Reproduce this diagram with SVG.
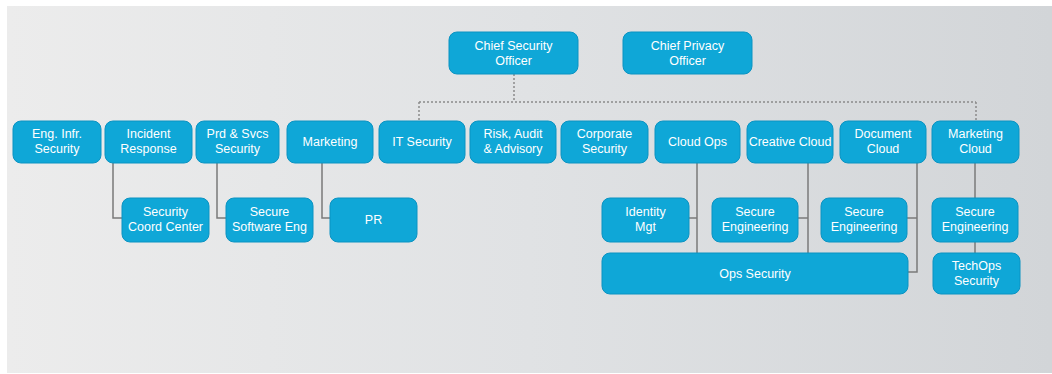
<svg xmlns="http://www.w3.org/2000/svg" width="1052" height="374" viewBox="0 0 1052 374">
<defs>
<linearGradient id="bg" x1="0" y1="0" x2="1" y2="0">
<stop offset="0" stop-color="#ececec"/>
<stop offset="0.5" stop-color="#e0e2e4"/>
<stop offset="1" stop-color="#d2d5d8"/>
</linearGradient>
<style>
.n rect{fill:#0fa7d7;stroke:#0b93c2;stroke-width:1}
.n text{fill:#ffffff;font-family:"Liberation Sans",Arial,sans-serif;font-size:12.5px;text-anchor:middle}
.c path{fill:none;stroke:#7a7a7a;stroke-width:1.5}
.c path.d{stroke:#8a8a8a;stroke-width:1.5;stroke-dasharray:2 2}
</style>
</defs>
<rect x="0" y="0" width="1052" height="374" fill="#ffffff"/>
<rect x="7" y="6" width="1045" height="367" fill="url(#bg)"/>
<g class="c" id="connectors">
<path class="d" d="M514 74V102"/>
<path class="d" d="M419 102H976"/>
<path class="d" d="M419 102V121"/>
<path class="d" d="M976 102V121"/>
<path d="M113 163V218H122"/>
<path d="M217 163V218H226"/>
<path d="M322 163V218H330"/>
<path d="M697 163V253"/>
<path d="M689 218H697"/>
<path d="M808 163V253"/>
<path d="M798 218H808"/>
<path d="M917 163V272H908"/>
<path d="M907 218H917"/>
<path d="M975 163V198"/>
<path d="M975 242V253"/>
</g>
<g class="n" id="cso"><rect x="449" y="32" width="129" height="42" rx="8"/><text x="513.5" y="50">Chief Security</text><text x="513.5" y="65">Officer</text></g>
<g class="n" id="cpo"><rect x="623" y="32" width="129" height="42" rx="8"/><text x="687.5" y="50">Chief Privacy</text><text x="687.5" y="65">Officer</text></g>
<g class="n" id="eng"><rect x="13" y="121" width="88" height="42" rx="8"/><text x="57" y="138">Eng. Infr.</text><text x="57" y="153">Security</text></g>
<g class="n" id="incident"><rect x="105" y="121" width="87" height="42" rx="8"/><text x="148.5" y="138">Incident</text><text x="148.5" y="153">Response</text></g>
<g class="n" id="prd"><rect x="196" y="121" width="83" height="42" rx="8"/><text x="237.5" y="138">Prd &amp; Svcs</text><text x="237.5" y="153">Security</text></g>
<g class="n" id="marketing"><rect x="287" y="121" width="86" height="42" rx="8"/><text x="330" y="146">Marketing</text></g>
<g class="n" id="itsec"><rect x="379" y="121" width="86" height="42" rx="8"/><text x="422" y="146">IT Security</text></g>
<g class="n" id="risk"><rect x="470" y="121" width="86" height="42" rx="8"/><text x="513" y="138">Risk, Audit</text><text x="513" y="153">&amp; Advisory</text></g>
<g class="n" id="corp"><rect x="561" y="121" width="87" height="42" rx="8"/><text x="604.5" y="138">Corporate</text><text x="604.5" y="153">Security</text></g>
<g class="n" id="cloudops"><rect x="655" y="121" width="85" height="42" rx="8"/><text x="697.5" y="146">Cloud Ops</text></g>
<g class="n" id="creative"><rect x="747" y="121" width="86" height="42" rx="8"/><text x="790" y="146">Creative Cloud</text></g>
<g class="n" id="document"><rect x="840" y="121" width="86" height="42" rx="8"/><text x="883" y="138">Document</text><text x="883" y="153">Cloud</text></g>
<g class="n" id="mktcloud"><rect x="932" y="121" width="87" height="42" rx="8"/><text x="975.5" y="138">Marketing</text><text x="975.5" y="153">Cloud</text></g>
<g class="n" id="scc"><rect x="122" y="198" width="87" height="44" rx="8"/><text x="165.5" y="216">Security</text><text x="165.5" y="231">Coord Center</text></g>
<g class="n" id="sse"><rect x="226" y="198" width="87" height="44" rx="8"/><text x="269.5" y="216">Secure</text><text x="269.5" y="231">Software Eng</text></g>
<g class="n" id="pr"><rect x="330" y="198" width="87" height="44" rx="8"/><text x="373.5" y="224">PR</text></g>
<g class="n" id="identity"><rect x="602" y="198" width="87" height="44" rx="8"/><text x="645.5" y="216">Identity</text><text x="645.5" y="231">Mgt</text></g>
<g class="n" id="se1"><rect x="712" y="198" width="86" height="44" rx="8"/><text x="755" y="216">Secure</text><text x="755" y="231">Engineering</text></g>
<g class="n" id="se2"><rect x="821" y="198" width="86" height="44" rx="8"/><text x="864" y="216">Secure</text><text x="864" y="231">Engineering</text></g>
<g class="n" id="se3"><rect x="932" y="198" width="86" height="44" rx="8"/><text x="975" y="216">Secure</text><text x="975" y="231">Engineering</text></g>
<g class="n" id="opssec"><rect x="602" y="253" width="306" height="41" rx="8"/><text x="755" y="278">Ops Security</text></g>
<g class="n" id="techops"><rect x="933" y="253" width="87" height="41" rx="8"/><text x="976.5" y="270">TechOps</text><text x="976.5" y="285">Security</text></g>
</svg>
